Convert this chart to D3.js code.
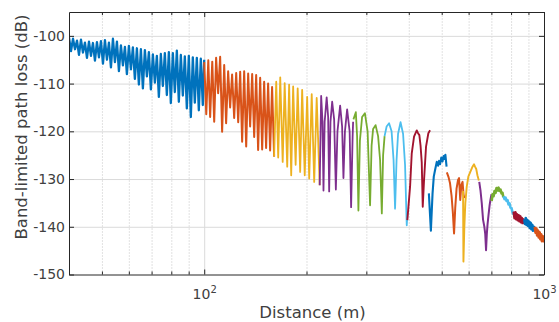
<!DOCTYPE html>
<html><head><meta charset="utf-8">
<script src="https://cdn.jsdelivr.net/npm/d3@7"></script>
<style>
body{margin:0;background:#fff}
svg text{font-family:"DejaVu Sans",sans-serif}
</style>
</head><body>
<svg id="chart" width="559" height="322"></svg>
<script>
// ---- data ----
const yTicks = [-150, -140, -130, -120, -110, -100];
const xMajorTicks = [100, 1000];
const xMajorLabels = [["10", "2"], ["10", "3"]];
const xMinorTicks = [50, 60, 70, 80, 90, 200, 300, 400, 500, 600, 700, 800, 900];
const xLabel = "Distance (m)";
const yLabel = "Band-limited path loss (dB)";

// each segment: distances (m) and band-limited path loss (dB)
const distanceM = [
  [40.0,40.55,41.10,41.66,42.23,42.80,43.38,43.97,44.57,45.18,45.80,46.42,47.05,47.69,48.34,49.00,49.67,50.35,51.03,51.73,52.43,53.15,53.87,54.60,55.35,56.10,56.87,57.64,58.43,59.22,60.03,60.85,61.67,62.51,63.37,64.23,65.11,65.99,66.89,67.81,68.73,69.67,70.62,71.58,72.55,73.54,74.54,75.56,76.59,77.63,78.69,79.76,80.85,81.95,83.07,84.20,85.35,86.51,87.69,88.89,90.10,91.33,92.57,93.83,95.11,96.41,97.72,99.05,100.0],
  [100.0,101.4,102.8,104.1,105.6,107.0,108.4,109.9,111.4,112.9,114.5,116.0,117.6,119.2,120.8,122.5,124.2,125.9,127.6,129.3,131.1,132.9,134.7,136.5,138.4,140.3,142.2,144.1,146.1,148.1,150.1,152.1,154.2,156.3,158.4,160.6],
  [160.6,162.9,165.1,167.4,170.2,172.5,175.5,177.8,180.3,182.7,185.8,188.4,191.6,194.2,197.6,200.9,203.7,207.2,210.7,214.3,218.7],
  [218.7,220.9,222.9,224.4,226.2,229.3,231.6,233.2,235.3,238.0,241.2,244.0,246.7,251.2,254.6,256.9,259.5,263.4,267.9,270.6,273.4,274.3],
  [274.9,279.4,281.8,284.3,287.2,291.5,297.1,302.6,307.7,310.9,314.1,319.4,324.9,329.3,333.2,336.1,339.5],
  [339.5,344.2,350.0,356.0,360.8,364.5,368.2,372.0,378.3,384.8,390.0,394.5,396.7],
  [396.1,403.5,408.1,414.5,422.2,425.9,429.7,433.2,436.7,439.7,443.6,449.6,456.7,462.1],
  [458.3,464.6,469.9,473.8,478.0,483.5,487.8,491.1,494.4,498.5,502.9,506.3,509.7,512.5,516.7],
  [517.7,523.7,529.0,534.5,539.2,543.6,548.0,552.9,558.5,562.3,566.9,571.2,575.8,579.7,582.5],
  [577.8,579.3,582.9,586.8,592.4,598.9,607.8,616.1,622.4,626.6,631.8,636.9,643.0],
  [644.8,650.5,655.8,661.6,667.5,671.5,675.2,678.8,682.1,686.7,691.4,696.1,700.8],
  [701.3,705.6,710.4,715.2,720.0,724.9,729.9,734.8,739.8,744.8,749.9,755.0,759.1],
  [760.1,765.3,770.5,775.7,781.0,786.3,791.6,797.0,802.4,807.9,813.4],
  [815.0,819.5,823.9,828.4,832.9,837.4,842.0,846.5,851.1,855.8,860.4,865.1,869.8,874.5],
  [875.7,879.2,884.0,888.8,893.6,898.5,903.4,908.3,913.2,918.2,923.2,928.2,933.3,938.3],
  [939.6,944.7,949.8,955.0,960.2,965.4,970.6,975.9,981.2,986.6,991.9,997.3,1000]
];
const lossDb = [
  [-100.3,-103.2,-100.6,-102.8,-101.0,-104.0,-100.8,-103.5,-101.4,-104.6,
   -101.2,-104.2,-101.5,-105.2,-101.3,-104.5,-101.1,-105.8,-100.9,-105.0,
   -101.4,-106.6,-100.6,-105.5,-101.2,-107.4,-102.0,-106.2,-102.3,-108.0,
   -102.1,-107.0,-102.4,-109.0,-102.6,-110.2,-102.8,-111.0,-103.0,-108.5,
   -103.4,-111.2,-103.9,-109.8,-104.2,-112.8,-103.8,-110.5,-103.6,-112.4,
   -103.4,-114.1,-103.6,-111.8,-103.1,-113.8,-104.0,-112.5,-104.3,-115.2,
   -104.2,-117.0,-104.5,-114.0,-104.6,-115.6,-104.8,-114.5,-105.0],
  [-105.5,-116.4,-105.1,-117.0,-105.4,-118.0,-104.6,-112.0,-104.4,-120.1,
   -106.1,-118.3,-107.4,-115.0,-108.1,-117.2,-107.8,-118.1,-107.5,-122.2,
   -107.4,-123.2,-107.9,-119.0,-108.0,-121.2,-108.2,-123.9,-108.8,-123.8,
   -109.6,-123.5,-110.0,-124.0,-110.7,-125.3],
  [-125.3,-109.6,-125.5,-108.7,-126.4,-109.9,-127.4,-110.2,-129.2,-110.6,-127.0,-111.0,-128.5,-111.3,-129.2,-112.8,-129.9,-112.2,-130.6,-113.0,-131.3],
  [-131.3,-112.6,-118.0,-132.4,-118.0,-112.9,-117.0,-132.6,-118.0,-113.8,-117.5,-132.2,-120.0,-114.6,-119.0,-129.8,-120.0,-115.4,-120.0,-135.9,-121.0,-118.0],
  [-117.5,-116.0,-121.0,-136.6,-122.0,-117.0,-116.2,-120.0,-135.5,-123.0,-119.5,-118.7,-121.0,-126.0,-137.2,-125.0,-121.0],
  [-121.0,-119.0,-118.3,-120.0,-126.0,-136.2,-126.0,-120.5,-118.1,-120.5,-127.0,-139.7,-137.0],
  [-138.6,-131.6,-124.6,-121.1,-119.8,-120.4,-120.8,-123.0,-126.5,-135.8,-130.2,-123.2,-120.4,-119.8],
  [-133.0,-140.8,-133.0,-129.5,-128.1,-126.4,-127.2,-126.2,-126.9,-125.5,-126.3,-125.2,-125.8,-124.9,-127.4],
  [-128.6,-129.6,-130.9,-133.5,-137.0,-141.4,-136.0,-132.0,-130.2,-129.8,-134.4,-131.2,-130.6,-133.2,-134.0],
  [-132.5,-147.3,-140.0,-135.0,-131.6,-129.5,-128.4,-127.4,-126.9,-127.4,-127.9,-129.2,-130.3],
  [-130.6,-132.5,-135.0,-138.5,-140.0,-141.5,-144.9,-141.5,-139.5,-137.5,-135.6,-134.2,-133.2],
  [-134.6,-133.2,-133.6,-132.5,-132.9,-131.9,-132.4,-131.8,-132.5,-132.2,-133.0,-132.9,-133.8],
  [-133.6,-134.2,-133.9,-134.6,-134.4,-135.3,-135.1,-136.0,-136.1,-137.0,-137.4],
  [-136.8,-138.2,-137.0,-138.4,-137.4,-138.6,-137.6,-138.8,-137.8,-139.0,-138.2,-139.2,-138.5,-139.4],
  [-138.4,-139.4,-138.2,-139.6,-138.6,-139.8,-138.9,-140.2,-139.2,-140.5,-139.6,-140.8,-140.0,-141.0],
  [-140.0,-141.2,-140.4,-141.8,-140.8,-142.2,-141.2,-142.6,-141.6,-143.0,-142.0,-143.0,-142.4]
];

// ---- styles ----
const palette = ["#0072BD","#D95319","#EDB120","#7E2F8E","#77AC30","#4DBEEE","#A2142F"];
const segWidth = [2.3, 2.0, 1.8, 1.8, 1.8, 1.8, 1.9, 2.1, 2.0, 1.9, 2.0, 2.6, 2.6, 2.8, 2.8, 2.8];
const axisColor = "#262626";
const textColor = "#404040";

const svg = d3.select("#chart");
const L = 69, R = 544, T = 12, B = 274.5;
const x = d3.scaleLog().domain([40, 1000]).range([L, R]);
const y = d3.scaleLinear().domain([-150, -95]).range([B, T]);

svg.append("rect").attr("x",0).attr("y",0).attr("width",559).attr("height",322).attr("fill","#fff");

// grids
const gMinor = svg.append("g").attr("transform", `translate(0,${B})`)
  .call(d3.axisBottom(x).tickValues(xMinorTicks).tickSize(-(B - T)).tickFormat(""));
gMinor.select(".domain").remove();
gMinor.selectAll("line").attr("stroke", "#bdbdbd").attr("stroke-dasharray", "1,2").attr("stroke-width", 0.9);

const gMajX = svg.append("g").attr("transform", `translate(0,${B})`)
  .call(d3.axisBottom(x).tickValues([100]).tickSize(-(B - T)).tickFormat(""));
gMajX.select(".domain").remove();
gMajX.selectAll("line").attr("stroke", "#dadada").attr("stroke-width", 1);

const gMajY = svg.append("g").attr("transform", `translate(${L},0)`)
  .call(d3.axisLeft(y).tickValues(yTicks.filter(v => v > -150)).tickSize(-(R - L)).tickFormat(""));
gMajY.select(".domain").remove();
gMajY.selectAll("line").attr("stroke", "#dadada").attr("stroke-width", 1);

// data lines
svg.append("clipPath").attr("id","plotclip").append("rect")
  .attr("x", L).attr("y", T).attr("width", R - L).attr("height", B - T);
const line = d3.line().x(d => x(d[0])).y(d => y(d[1]));
const segs = distanceM.map((ds, i) => ds.map((d, j) => [d, lossDb[i][j]]));
svg.append("g").attr("clip-path","url(#plotclip)")
  .selectAll("path").data(segs).join("path")
  .attr("d", line)
  .attr("fill", "none")
  .attr("stroke", (d, i) => palette[i % palette.length])
  .attr("stroke-width", (d, i) => segWidth[i])
  .attr("stroke-linejoin", "round");

// axes
function styleAxis(g){
  g.selectAll(".domain").attr("stroke", axisColor).attr("stroke-width", 1);
  g.selectAll(".tick line").attr("stroke", axisColor).attr("stroke-width", 1);
  g.selectAll("text").attr("fill", textColor).attr("font-size", 14).attr("font-family", "DejaVu Sans");
}
const gLeft = svg.append("g").attr("transform", `translate(${L},0)`)
  .call(d3.axisLeft(y).tickValues(yTicks).tickSize(-5).tickSizeOuter(0).tickPadding(4).tickFormat(d => String(d)));
styleAxis(gLeft);
const gRight = svg.append("g").attr("transform", `translate(${R},0)`)
  .call(d3.axisRight(y).tickValues(yTicks).tickSize(-5).tickSizeOuter(0).tickFormat(""));
styleAxis(gRight);

const gBottom = svg.append("g").attr("transform", `translate(0,${B})`)
  .call(d3.axisBottom(x).tickValues(xMajorTicks).tickSize(-5).tickSizeOuter(0).tickFormat(""));
styleAxis(gBottom);
const gBottomMinor = svg.append("g").attr("transform", `translate(0,${B})`)
  .call(d3.axisBottom(x).tickValues(xMinorTicks).tickSize(-3).tickSizeOuter(0).tickFormat(""));
gBottomMinor.select(".domain").remove();
styleAxis(gBottomMinor);

const gTop = svg.append("g").attr("transform", `translate(0,${T})`)
  .call(d3.axisTop(x).tickValues(xMajorTicks).tickSize(-5).tickSizeOuter(0).tickFormat(""));
styleAxis(gTop);
const gTopMinor = svg.append("g").attr("transform", `translate(0,${T})`)
  .call(d3.axisTop(x).tickValues(xMinorTicks).tickSize(-3).tickSizeOuter(0).tickFormat(""));
gTopMinor.select(".domain").remove();
styleAxis(gTopMinor);

// x tick labels with superscripts
gBottom.selectAll(".tick").each(function(d, i){
  const t = d3.select(this).append("text")
    .attr("y", 24).attr("text-anchor", "middle")
    .attr("fill", textColor).attr("font-size", 14).attr("font-family", "DejaVu Sans");
  t.append("tspan").text(xMajorLabels[i][0]);
  t.append("tspan").attr("dy", -6).attr("font-size", 10).text(xMajorLabels[i][1]);
});

// axis labels
svg.append("text").attr("x", (L + R) / 2 + 6).attr("y", 318)
  .attr("text-anchor", "middle").attr("font-size", 16.5).attr("fill", textColor)
  .text(xLabel);
svg.append("text").attr("transform", "translate(27,127) rotate(-90)")
  .attr("text-anchor", "middle").attr("font-size", 16.5).attr("fill", textColor)
  .text(yLabel);
</script>
</body></html>
